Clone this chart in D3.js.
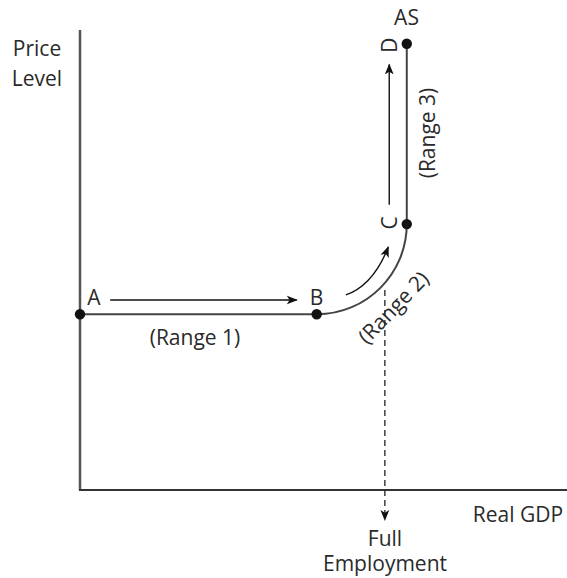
<!DOCTYPE html>
<html><head><meta charset="utf-8">
<script src="https://cdn.jsdelivr.net/npm/d3@7"></script>
<style>html,body{margin:0;padding:0;background:#fff;}svg{display:block;}</style>
</head><body>
<script>
// Data (x = Real GDP, y = Price level, arbitrary units 0..100)
const pointNames = ["A", "B", "C", "D"];
const pointX = [0, 48.6, 67.1, 67.1];
const pointY = [38.2, 38.2, 57.8, 97.0];
const fullEmploymentX = 62.6;
const axisLabels = ["Price", "Level", "Real GDP", "Full", "Employment", "AS"];
const rangeLabels = ["(Range 1)", "(Range 2)", "(Range 3)"];

const W = 567, H = 578;
const svg = d3.select("body").append("svg").attr("width", W).attr("height", H);
const x = d3.scaleLinear().domain([0, 100]).range([80, 567]);
const y = d3.scaleLinear().domain([0, 100]).range([490, 30]);

const FONT = "'Open Sans', sans-serif";
const FS = 21;
const TXT = "#2a2a2a";
const defs = svg.append("defs");
defs.append("marker").attr("id", "ah").attr("viewBox", "0 0 10 10")
  .attr("refX", 9).attr("refY", 5).attr("markerWidth", 11).attr("markerHeight", 11)
  .attr("markerUnits", "userSpaceOnUse").attr("orient", "auto")
  .append("path").attr("d", "M0,1 L10,5 L0,9 L2.5,5 Z").attr("fill", "#111");

// Axes
svg.append("line").attr("x1", x(0)).attr("x2", x(0)).attr("y1", y(100)).attr("y2", y(0))
  .attr("stroke", "#555").attr("stroke-width", 2.5);
svg.append("line").attr("x1", x(0) - 1).attr("x2", x(100)).attr("y1", y(0)).attr("y2", y(0))
  .attr("stroke", "#333").attr("stroke-width", 2.2);

// AS curve
const [A, B, C, D] = pointNames.map((n, i) => [x(pointX[i]), y(pointY[i])]);
const k = 0.5523;
const p = d3.path();
p.moveTo(A[0], A[1]);
p.lineTo(B[0], B[1]);
p.bezierCurveTo(B[0] + k * (C[0] - B[0]), B[1], C[0], C[1] + k * (B[1] - C[1]), C[0], C[1]);
p.lineTo(D[0], D[1]);
svg.append("path").attr("d", p.toString()).attr("fill", "none")
  .attr("stroke", "#444").attr("stroke-width", 2);

// Full employment dashed line
svg.append("line").attr("x1", x(fullEmploymentX)).attr("x2", x(fullEmploymentX))
  .attr("y1", y(43.5)).attr("y2", y(-6.5))
  .attr("stroke", "#222").attr("stroke-width", 1.3).attr("stroke-dasharray", "6,4")
  .attr("marker-end", "url(#ah)");

// Arrows
svg.append("line").attr("x1", x(6.2)).attr("x2", x(44.5)).attr("y1", y(41.3)).attr("y2", y(41.3))
  .attr("stroke", "#111").attr("stroke-width", 1.4).attr("marker-end", "url(#ah)");
svg.append("line").attr("x1", x(63.5)).attr("x2", x(63.5)).attr("y1", y(62)).attr("y2", y(92.5))
  .attr("stroke", "#111").attr("stroke-width", 1.4).attr("marker-end", "url(#ah)");
const ca = d3.path();
ca.moveTo(x(54.6), y(42.4));
ca.quadraticCurveTo(x(60.2), y(44.5), x(63.3), y(52.8));
svg.append("path").attr("d", ca.toString()).attr("fill", "none")
  .attr("stroke", "#111").attr("stroke-width", 1.4).attr("marker-end", "url(#ah)");

// Points
svg.selectAll("circle.pt").data(pointNames).join("circle").attr("class", "pt")
  .attr("cx", (d, i) => x(pointX[i])).attr("cy", (d, i) => y(pointY[i]))
  .attr("r", 5.2).attr("fill", "#111");

function txt(s, tx, ty, rot, anchor) {
  svg.append("text").attr("transform", `translate(${tx},${ty}) rotate(${rot || 0})`)
    .attr("text-anchor", anchor || "middle").attr("dominant-baseline", "central")
    .attr("font-family", FONT).attr("font-size", FS).attr("fill", TXT).text(s);
}
// Point labels
txt(pointNames[0], 94, 297);
txt(pointNames[1], 316.5, 297);
txt(pointNames[2], 388.5, 223, -90);
txt(pointNames[3], 389, 45, -90);
txt(axisLabels[5], 406.5, 17);
// Axis labels
txt(axisLabels[0], 37, 48);
txt(axisLabels[1], 37, 78);
txt(axisLabels[2], 518, 514);
txt(axisLabels[3], 385, 538);
txt(axisLabels[4], 385, 563);
// Range labels
txt(rangeLabels[0], 195, 337);
txt(rangeLabels[1], 393, 307, -46);
txt(rangeLabels[2], 427, 133, -90);
</script>
</body></html>
